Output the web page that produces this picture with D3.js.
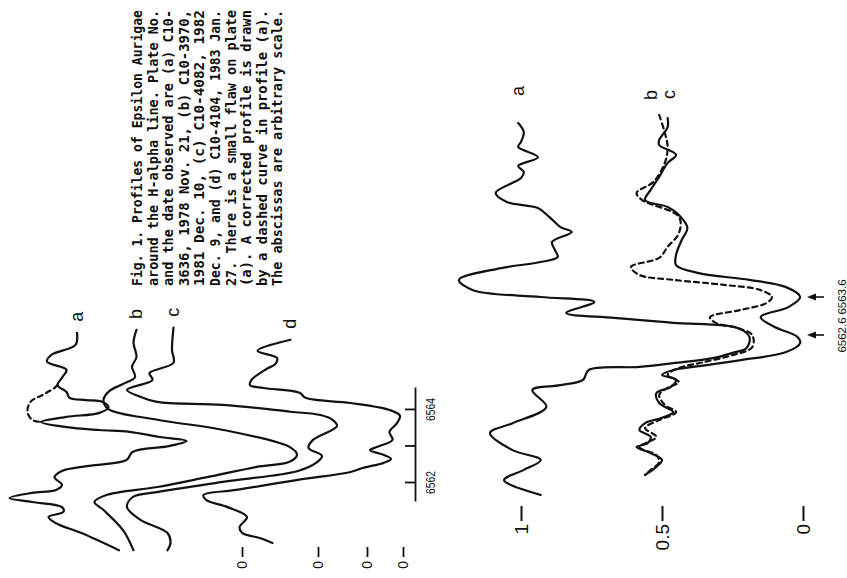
<!DOCTYPE html>
<html lang="en">
<head>
    <meta charset="UTF-8">
    <title>Epsilon Aurigae H-alpha profiles</title>
    <script src="https://d3js.org/d3.v7.min.js"></script>
    <style>
        body { margin: 0; background: #fff; }
        svg { display: block; }
    </style>
</head>
<body>
    <div id="chart"></div>

    <script>
        "use strict";

        // ---- data (wavelength in A, intensity in arbitrary units) ----
        // left panel, four plates, each with its own zero line
        let panel1Names = ['a', 'b', 'c', 'd'];
        let panel1Ticks = [6562, 6563, 6564];
        let panel1TickLabels = ['6562', '', '6564'];

        let panel1A = [[6566.11,1.10],[6565.78,1.11],[6565.51,1.27],[6565.32,1.30],[6565.10,1.17],[6564.88,1.20],
            [6564.68,1.23],[6564.49,1.17],[6564.33,1.15],[6564.27,1.04],[6564.22,0.93],[6564.08,0.89],[6563.92,0.95],
            [6563.81,1.17],[6563.67,1.34],[6563.53,1.17],[6563.45,0.95],[6563.40,0.75],[6563.26,0.55],[6563.15,0.37],
            [6563.01,0.49],[6562.85,0.73],[6562.63,0.77],[6562.47,1.02],[6562.33,1.20],[6562.16,1.25],[6561.95,1.20],
            [6561.81,1.24],[6561.73,1.40],[6561.59,1.55],[6561.48,1.40],[6561.34,1.20],[6561.21,1.19],[6561.07,1.29],
            [6560.90,1.24],[6560.63,1.07],[6560.16,0.82]];
        // corrected part of plate (a), drawn dashed
        let panel1ACorrected = [[6564.68,1.23],[6564.60,1.25],[6564.41,1.33],[6564.22,1.41],[6563.95,1.43],
            [6563.73,1.40],[6563.67,1.34]];
        let panel1B = [[6566.19,1.21],[6565.84,1.23],[6565.45,1.21],[6565.18,1.24],[6564.90,1.22],[6564.71,1.30],
            [6564.52,1.39],[6564.27,1.43],[6564.03,1.40],[6563.73,1.07],[6563.45,0.63],[6562.99,0.19],[6562.77,0.14],
            [6562.58,0.19],[6562.44,0.41],[6562.16,0.74],[6561.89,1.07],[6561.67,1.41],[6561.48,1.49],[6561.26,1.43],
            [6560.71,1.30],[6560.16,1.23]];
        let panel1C = [[6566.25,1.29],[6565.64,1.30],[6565.29,1.29],[6565.01,1.45],[6564.82,1.43],[6564.55,1.60],
            [6564.36,1.51],[6564.22,1.40],[6564.14,0.96],[6563.95,0.51],[6563.86,0.31],[6563.73,0.23],[6563.56,0.20],
            [6563.18,0.36],[6562.96,0.39],[6562.74,0.30],[6562.55,0.34],[6562.33,0.46],[6562.03,0.96],[6561.75,1.40],
            [6561.62,1.56],[6561.34,1.60],[6560.99,1.51],[6560.63,1.33],[6560.36,1.31],[6560.16,1.33]];
        let panel1D = [[6565.92,0.75],[6565.62,0.97],[6565.42,0.84],[6565.26,0.85],[6565.12,0.91],[6564.82,1.01],
            [6564.68,1.02],[6564.60,0.93],[6564.47,0.69],[6564.33,0.65],[6564.19,0.35],[6564.00,0.09],[6563.84,0.02],
            [6563.64,0.04],[6563.40,0.09],[6563.18,0.07],[6562.99,0.17],[6562.90,0.22],[6562.77,0.13],[6562.66,0.08],
            [6562.55,0.13],[6562.41,0.27],[6562.30,0.35],[6562.08,0.71],[6561.81,1.11],[6561.67,1.33],[6561.53,1.31],
            [6561.34,1.17],[6561.07,1.04],[6560.79,1.09],[6560.63,1.07],[6560.49,0.95],[6560.36,0.87]];

        // right (lower) panel, normalised intensity
        let panel2Ticks = [0, 0.5, 1];
        let panel2Marks = [6562.6, 6563.6];
        let panel2A = [[6568.18,1.01],[6567.94,0.99],[6567.68,1.00],[6567.55,1.01],[6567.28,0.94],[6567.05,1.01],
            [6566.89,0.99],[6566.73,1.00],[6566.34,1.09],[6566.10,1.05],[6565.94,0.94],[6565.71,0.90],[6565.44,0.86],
            [6565.31,0.82],[6565.05,0.89],[6564.84,0.88],[6564.65,0.87],[6564.52,0.93],[6564.36,1.07],[6564.05,1.22],
            [6563.78,1.17],[6563.60,0.93],[6563.47,0.74],[6563.18,0.84],[6563.05,0.67],[6562.92,0.46],[6562.78,0.23],
            [6562.55,0.19],[6562.26,0.20],[6562.13,0.25],[6561.99,0.32],[6561.86,0.46],[6561.76,0.58],[6561.68,0.76],
            [6561.42,0.78],[6561.28,0.86],[6561.15,0.96],[6560.71,0.91],[6560.28,1.03],[6560.02,1.11],[6559.57,1.03],
            [6559.31,0.93],[6559.05,0.99],[6558.78,1.06],[6558.39,0.93]];
        let panel2B = [[6568.31,0.48],[6568.07,0.48],[6567.73,0.51],[6567.60,0.51],[6567.34,0.45],[6567.13,0.48],
            [6566.76,0.51],[6566.42,0.54],[6566.15,0.56],[6565.97,0.48],[6565.76,0.44],[6565.42,0.41],[6565.10,0.43],
            [6564.71,0.45],[6564.44,0.45],[6564.23,0.37],[6564.05,0.19],[6563.86,0.06],[6563.60,0.01],[6563.34,0.05],
            [6563.07,0.15],[6562.81,0.10],[6562.55,0.02],[6562.39,0.01],[6562.15,0.06],[6561.94,0.22],[6561.78,0.37],
            [6561.68,0.46],[6561.55,0.50],[6561.42,0.45],[6561.23,0.47],[6561.07,0.52],[6560.81,0.51],[6560.57,0.46],
            [6560.42,0.50],[6560.28,0.56],[6560.10,0.58],[6559.92,0.54],[6559.76,0.55],[6559.65,0.59],[6559.49,0.54],
            [6559.31,0.50],[6559.13,0.52],[6558.92,0.56]];
        let panel2C = [[6568.39,0.51],[6567.92,0.49],[6567.55,0.48],[6567.13,0.49],[6566.63,0.53],[6566.34,0.59],
            [6566.15,0.57],[6565.71,0.44],[6565.28,0.44],[6564.92,0.48],[6564.63,0.51],[6564.39,0.61],[6564.18,0.58],
            [6564.05,0.46],[6563.92,0.28],[6563.78,0.15],[6563.60,0.11],[6563.44,0.13],[6563.26,0.22],[6563.07,0.33],
            [6562.92,0.31],[6562.78,0.23],[6562.60,0.18],[6562.28,0.18],[6562.07,0.25],[6561.89,0.35],[6561.73,0.44],
            [6561.55,0.48],[6561.36,0.44],[6561.21,0.48],[6561.02,0.51],[6560.76,0.49],[6560.57,0.45],[6560.36,0.51],
            [6560.15,0.56],[6559.92,0.52],[6559.65,0.58],[6559.44,0.52],[6559.26,0.51],[6559.05,0.54],[6558.92,0.56]];

        let caption = [
            'Fig. 1. Profiles of Epsilon Aurigae',
            'around the H-alpha line. Plate No.',
            'and the date observed are (a) C10-',
            '3636, 1978 Nov. 21, (b) C10-3970,',
            '1981 Dec. 10, (c) C10-4082, 1982',
            'Dec. 9, and (d) C10-4104, 1983 Jan.',
            '27. There is a small flaw on plate',
            '(a). A corrected profile is drawn',
            'by a dashed curve in profile (a).',
            'The abscissas are arbitrary scale.'
        ];

        // ---- layout ----
        let svgWidth = 847;
        let svgHeight = 578;
        let ink = '#111';
        let lineWidth = 2.2;
        let sans = "'Liberation Sans', Arial, sans-serif";

        let svg = d3.select('#chart').append('svg')
            .attr('width', svgWidth)
            .attr('height', svgHeight);
        svg.append('rect').attr('width', svgWidth).attr('height', svgHeight).attr('fill', '#fff');

        // the page was printed sideways: draw it upright, then turn it a quarter left
        let fig = svg.append('g')
            .attr('transform', 'translate(0,' + svgHeight + ') rotate(-90)');

        function smoothLine(x, y){
            return d3.line()
                .x(d => x(d[0]))
                .y(d => y(d[1]))
                .curve(d3.curveCatmullRom.alpha(0.5));
        }

        function drawProfile(g, data, x, y, dashed){
            g.append('path')
                .datum(data)
                .attr('d', smoothLine(x, y))
                .attr('fill', 'none')
                .attr('stroke', ink)
                .attr('stroke-width', lineWidth)
                .attr('stroke-linejoin', 'round')
                .attr('stroke-linecap', 'round')
                .attr('stroke-dasharray', dashed ? '5,4' : null);
        }

        // ---- left panel ----
        let p1 = fig.append('g');
        let x1 = d3.scaleLinear().domain([6561.48, 6564.60]).range([76, 190]);
        let panel1Zero = [242, 318, 367, 403];
        let panel1Data = [panel1A, panel1B, panel1C, panel1D];

        panel1Data.forEach((data, i) => {
            let y = d3.scaleLinear().domain([0, 1]).range([panel1Zero[i], panel1Zero[i] - 150]);
            drawProfile(p1, data, x1, y, false);
            if (i === 0) drawProfile(p1, panel1ACorrected, x1, y, true);

            // zero mark on the left
            let ax = p1.append('g')
                .attr('transform', 'translate(31,0)')
                .call(d3.axisLeft(y).tickValues([0]).tickFormat(d3.format('d')).tickSize(10).tickPadding(4));
            ax.select('.domain').remove();
            ax.selectAll('line').attr('stroke', ink).attr('stroke-width', 1.8);
            ax.selectAll('text').attr('fill', ink).attr('font-size', 14).attr('font-family', sans);

            // letter at the red end
            p1.append('text')
                .attr('x', x1(data[0][0]) + 11)
                .attr('y', y(data[0][1]))
                .attr('dy', '0.32em')
                .attr('font-size', 18)
                .attr('font-family', sans)
                .attr('fill', ink)
                .text(panel1Names[i]);
        });

        let axis1 = p1.append('g')
            .attr('transform', 'translate(0,415)')
            .call(d3.axisBottom(x1)
                .tickValues(panel1Ticks)
                .tickFormat((d, i) => panel1TickLabels[i])
                .tickSizeInner(-10)
                .tickSizeOuter(0)
                .tickPadding(11));
        axis1.selectAll('path, line').attr('stroke', ink).attr('stroke-width', 1.8);
        axis1.selectAll('text')
            .attr('fill', ink)
            .attr('font-size', 12)
            .attr('font-family', sans)
            .attr('textLength', d => d === 6563 ? null : 23)
            .attr('lengthAdjust', 'spacingAndGlyphs');

        // ---- right (lower) panel ----
        let p2 = fig.append('g');
        let x2 = d3.scaleLinear().domain([6562.6, 6563.6]).range([243, 281]);
        let y2 = d3.scaleLinear().domain([0, 1]).range([803, 521]);

        drawProfile(p2, panel2A, x2, y2, false);
        drawProfile(p2, panel2B, x2, y2, false);
        drawProfile(p2, panel2C, x2, y2, true);

        let axis2 = p2.append('g')
            .attr('transform', 'translate(72,0)')
            .call(d3.axisLeft(y2).tickValues(panel2Ticks).tickFormat(d3.format('')).tickSize(15).tickPadding(3));
        axis2.select('.domain').remove();
        axis2.selectAll('line').attr('stroke', ink).attr('stroke-width', 2);
        axis2.selectAll('text').attr('fill', ink).attr('font-size', 19).attr('font-family', sans);

        let ends = [
            {name: 'a', d: panel2A[0], du: 27, dv: 0},
            {name: 'b', d: panel2B[0], du: 18, dv: -16},
            {name: 'c', d: panel2C[0], du: 16, dv: 10}
        ];
        p2.selectAll('text.curve')
            .data(ends)
            .enter()
            .append('text')
            .attr('class', 'curve')
            .attr('x', d => x2(d.d[0]) + d.du)
            .attr('y', d => y2(d.d[1]) + d.dv)
            .attr('dy', '0.32em')
            .attr('font-size', 18)
            .attr('font-family', sans)
            .attr('fill', ink)
            .text(d => d.name);

        // arrows under the two marked wavelengths
        let marks = p2.selectAll('g.mark')
            .data(panel2Marks)
            .enter()
            .append('g')
            .attr('class', 'mark')
            .attr('transform', d => 'translate(' + x2(d) + ',0)');
        marks.append('line')
            .attr('y1', 824).attr('y2', 812)
            .attr('stroke', ink).attr('stroke-width', 1.6);
        marks.append('path')
            .attr('d', 'M-3.5,816L0,807L3.5,816Z')
            .attr('fill', ink);
        marks.append('text')
            .attr('y', 846)
            .attr('text-anchor', 'middle')
            .attr('font-size', 11.5)
            .attr('font-family', sans)
            .attr('fill', ink)
            .text(d => d3.format('.1f')(d));

        // ---- caption, top right when upright ----
        fig.append('g')
            .selectAll('text')
            .data(caption)
            .enter()
            .append('text')
            .attr('x', 292)
            .attr('y', (d, i) => 142 + i * 15.6)
            .attr('textLength', 276)
            .attr('lengthAdjust', 'spacingAndGlyphs')
            .attr('font-size', 13.5)
            .attr('font-weight', 'bold')
            .attr('font-family', "'DejaVu Sans Mono', 'Liberation Mono', monospace")
            .attr('fill', ink)
            .text(d => d);
    </script>
</body>
</html>
